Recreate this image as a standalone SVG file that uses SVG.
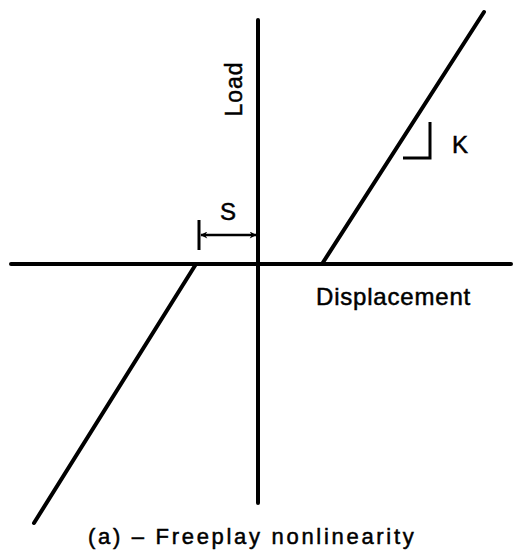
<svg xmlns="http://www.w3.org/2000/svg" width="514" height="555" viewBox="0 0 514 555">
<style>
.ln{stroke:#000;stroke-width:4;stroke-linecap:round;fill:none}
.thin{stroke:#000;stroke-width:3;fill:none}
.t{font-family:"Liberation Sans",Arial,sans-serif;fill:#000;stroke:#000;stroke-width:0.5}
</style>
<defs>
<marker id="ah" viewBox="0 0 10 10" refX="9" refY="5" markerWidth="11" markerHeight="7" markerUnits="userSpaceOnUse" orient="auto-start-reverse">
<path d="M0,0 L10,5 L0,10 L3,5 Z" fill="#000"/>
</marker>
</defs>
<rect width="514" height="555" fill="#fff"/>
<g id="axes">
<line class="ln" x1="258" y1="20" x2="258" y2="503"/>
<line class="ln" x1="11" y1="264" x2="511" y2="264"/>
</g>
<g id="curve">
<line class="ln" x1="322" y1="264" x2="484" y2="12"/>
<line class="ln" x1="196" y1="264" x2="34" y2="523"/>
</g>
<g id="slope">
<polyline class="thin" points="430,122 430,158 403,158"/>
<text class="t" x="452" y="153" font-size="24">K</text>
</g>
<g id="freeplay">
<line class="thin" x1="199" y1="220" x2="199" y2="250"/>
<line stroke="#000" stroke-width="2.5" x1="201" y1="235" x2="256" y2="235" marker-start="url(#ah)" marker-end="url(#ah)"/>
<text class="t" x="228" y="220" font-size="24" text-anchor="middle">S</text>
</g>
<g id="labels">
<text class="t" x="242" y="89" font-size="23" text-anchor="middle" transform="rotate(-90 242 89)" letter-spacing="1">Load</text>
<text class="t" x="316" y="305" font-size="24" letter-spacing="0.8">Displacement</text>
<text class="t" x="88" y="544" font-size="22" letter-spacing="2.7">(a) – Freeplay nonlinearity</text>
</g>
</svg>
